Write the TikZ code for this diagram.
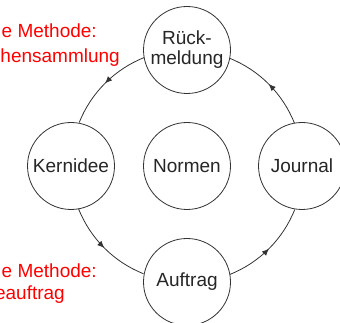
\documentclass[tikz,border=0pt]{standalone}
\usepackage{fontspec}
\setmainfont{Liberation Sans}
\usetikzlibrary{arrows.meta,decorations.markings}
\begin{document}
\begin{tikzpicture}[x=1pt,y=1pt,
  ring/.style={circle,draw=black!80,line width=0.8pt,minimum size=87pt,inner sep=0pt,outer sep=0pt,
    text=black!85,font=\fontsize{19}{20}\selectfont,align=center},
  conn/.style={draw=black!80,line width=0.8pt,postaction={decorate},
    decoration={markings,mark=at position 0.5 with {\arrow{Latex[length=7pt,width=6pt]}}}},
  redtxt/.style={text=red,font=\fontsize{19}{20}\selectfont,inner sep=0pt,anchor=base east}]
\useasboundingbox (0,0) rectangle (340,323);
\clip (0,0) rectangle (340,323);
\fill[white] (0,0) rectangle (340,323);
\node[ring] (rk) at (187,273) {Rück-\\meldung};
\node[ring] (kd) at (71,157) {Kernidee};
\node[ring] (nm) at (187,157) {Normen};
\node[ring] (jn) at (302,157) {Journal};
\node[ring] (af) at (187,41) {Auftrag};
\draw[conn] (rk.190.85) arc[start angle=111.7,end angle=158.3,radius=116pt];
\draw[conn] (kd.280.85) arc[start angle=201.7,end angle=248.3,radius=116pt];
\draw[conn] (af.10.85) arc[start angle=291.7,end angle=338.3,radius=116pt];
\draw[conn] (jn.100.85) arc[start angle=21.7,end angle=68.3,radius=116pt];
\node[redtxt] (t1) at (97,285) {e Methode:};
\node[redtxt] (t2) at (120,260) {hensammlung};
\node[redtxt] (t3) at (97,45) {e Methode:};
\node[redtxt] (t4) at (65,23) {eauftrag};
\end{tikzpicture}
\end{document}
